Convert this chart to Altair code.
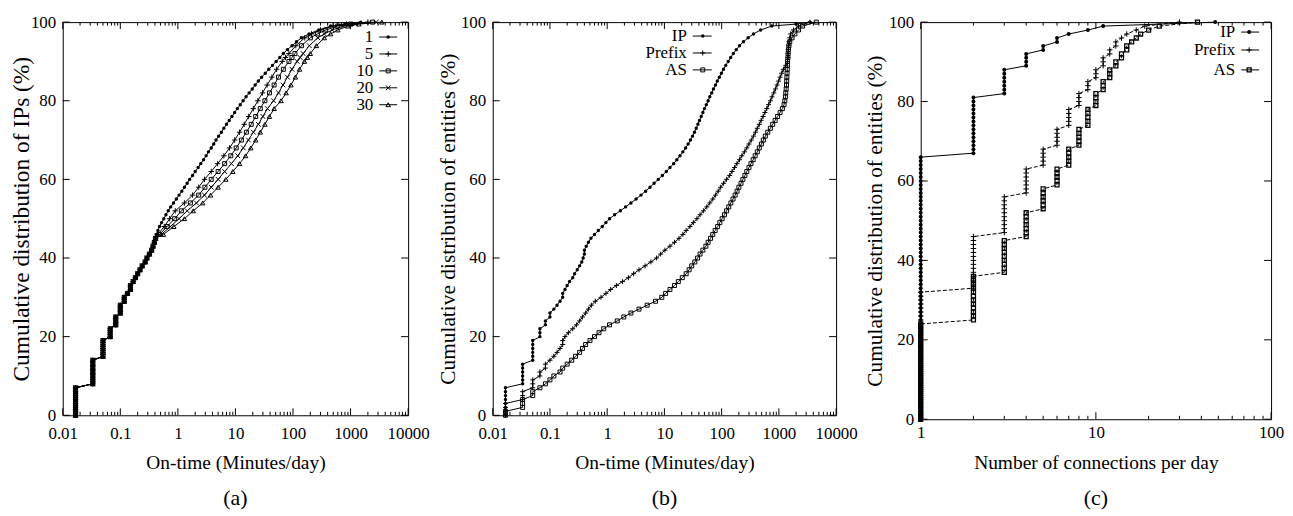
import altair as alt
import pandas as pd

FONT = "Liberation Serif, Times New Roman, Times, serif"
PLUS = "M-1,0L1,0M0,-1L0,1"
CROSS = "M-1,-1L1,1M-1,1L1,-1"

# ---------------- panel (a): on-time of IPs, [minutes/day, %] ----------------
a_low = [[0.0167,0],[0.0167,1],[0.0167,2],[0.0167,3],[0.0167,4],[0.0167,5],[0.0167,6],[0.0167,7],
         [0.0333,8],[0.0333,9],[0.0333,10],[0.0333,11],[0.0333,12],[0.0333,13],[0.0333,14],
         [0.05,15],[0.05,16],[0.05,17],[0.05,18],[0.05,19],
         [0.0667,20],[0.0667,21],[0.0667,22],[0.0833,23],[0.0833,24],[0.0833,25],
         [0.1,26],[0.1,27],[0.1,28],[0.117,29],[0.117,30],[0.133,31],[0.15,32],[0.15,33],[0.167,34],
         [0.183,35],[0.2,36],[0.22,37],[0.24,38],[0.27,39],[0.29,40],[0.32,41],[0.35,42],[0.37,43],[0.39,44]]
a_1 = [[0.4,45],[0.42,46],[0.45,47],[0.48,48],[0.52,49],[0.57,50],[0.62,51],[0.68,52],[0.75,53],[0.84,54],
       [0.94,55],[1.05,56],[1.17,57],[1.3,58],[1.45,59],[1.6,60],[1.8,61],[2.0,62],[2.25,63],[2.5,64],
       [2.8,65],[3.1,66],[3.4,67],[3.8,68],[4.2,69],[4.6,70],[5.1,71],[5.7,72],[6.3,73],[7.0,74],
       [7.8,75],[8.7,76],[9.7,77],[10.8,78],[12.1,79],[13.6,80],[15.3,81],[17.3,82],[19.6,83],[22,84],
       [25,85],[28.5,86],[33,87],[38,88],[44,89],[51,90],[59,91],[68,92],[80,93],[96,94],
       [115,95],[140,96],[190,97],[280,98],[450,99],[800,99.5],[1500,100]]
a_5 = [[0.41,45],[0.45,46],[0.58,48],[0.72,50],[0.9,52],[1.3,54],[1.8,56],[2.3,58],[2.9,60],[3.8,62],
       [4.9,64],[6.3,66],[7.9,68],[9.7,70],[11.8,72],[14.2,74],[17,76],[20.5,78],[24.5,80],[29.5,82],
       [35.5,84],[43,86],[52,88],[65,90],[74,91],[85,92],[112,94],[160,96],[210,97],[300,98],
       [500,99],[850,99.5],[2000,100]]
a_10 = [[0.41,45],[0.48,46],[0.65,48],[0.88,50],[1.15,52],[1.65,54],[2.3,56],[2.95,58],[3.8,60],[5.0,62],
        [6.5,64],[8.3,66],[10.3,68],[12.7,70],[15.5,72],[18.8,74],[22.5,76],[27,78],[32.5,80],[39,82],
        [47,84],[56,86],[68,88],[85,90],[96,91],[108,92],[140,94],[200,96],[265,97],[370,98],
        [600,99],[1000,99.5],[2400,100]]
a_20 = [[0.41,45],[0.52,46],[0.74,48],[1.05,50],[1.45,52],[2.1,54],[2.9,56],[3.8,58],[5.0,60],[6.5,62],
        [8.5,64],[11,66],[13.7,68],[16.8,70],[20.5,72],[25,74],[30,76],[36,78],[46,80],[56,82],
        [67,84],[80,86],[96,88],[118,90],[133,91],[150,92],[192,94],[270,96],[350,97],[480,98],
        [750,99],[1200,99.5],[2800,100]]
a_30 = [[0.41,45],[0.56,46],[0.85,48],[1.3,50],[1.85,52],[2.7,54],[3.7,56],[5.0,58],[6.8,60],[9.0,62],
        [11.8,64],[15,66],[18.5,68],[22.5,70],[27,72],[32.5,74],[39,76],[47,78],[62,80],[76,82],
        [92,84],[110,86],[130,88],[158,90],[178,91],[200,92],[255,94],[350,96],[450,97],[600,98],
        [900,99],[1400,99.5],[3500,100]]
a_names = ["1", "5", "10", "20", "30"]

# ---------------- panel (b): on-time of entities ----------------
b_ip = [[0.0167,0],[0.0167,1],[0.0167,2],[0.0167,3],[0.0167,4],[0.0167,5],[0.0167,6],[0.0167,7],
        [0.0333,8],[0.0333,9],[0.0333,10],[0.0333,11],[0.0333,12],[0.0333,13],
        [0.05,14],[0.05,15],[0.05,16],[0.05,17],[0.05,18],[0.05,19],
        [0.0667,20],[0.0667,21],[0.0667,22],[0.0833,23],[0.0833,24],
        [0.1,25],[0.1,26],[0.117,27],[0.133,28],[0.15,29],[0.167,30],[0.167,31],[0.183,32],[0.2,33],
        [0.22,34],[0.25,35],[0.27,36],[0.3,37],[0.33,38],[0.36,39],[0.38,40],[0.4,41],[0.4,42],
        [0.43,43],[0.47,44],[0.52,45],[0.6,46],[0.7,47],[0.82,48],[0.95,49],[1.1,50],[1.35,51],
        [1.7,52],[2.1,53],[2.6,54],[3.2,55],[3.9,56],[4.7,57],[5.6,58],[6.6,59],[7.8,60],[9.2,61],
        [10.8,62],[12.5,63],[14.5,64],[16.5,65],[18.7,66],[21,67],[23.5,68],[26,69],[28.5,70],
        [31,71],[33.5,72],[36,73],[38.5,74],[41,75],[44,76],[47,77],[50,78],[54,79],[58,80],
        [62,81],[67,82],[72,83],[78,84],[84,85],[91,86],[99,87],[108,88],[118,89],[130,90],
        [144,91],[160,92],[180,93],[205,94],[240,95],[290,96],[360,97],[480,98],[750,99],
        [2000,99.5],[3500,100]]
b_prefix = [[0.0167,0],[0.0167,1],[0.0167,2],[0.0167,3],[0.0333,4],[0.0333,5],[0.0333,6],
            [0.05,7],[0.05,8],[0.05,9],[0.0667,10],[0.0667,11],[0.0833,12],[0.0833,13],[0.1,14],
            [0.117,15],[0.133,16],[0.15,17],[0.167,18],[0.167,19],[0.183,20],[0.21,21],[0.25,22],
            [0.29,23],[0.33,24],[0.37,25],[0.42,26],[0.47,27],[0.53,28],[0.62,29],[0.78,30],
            [0.95,31],[1.15,32],[1.45,33],[1.85,34],[2.35,35],[2.9,36],[3.6,37],[4.6,38],[5.8,39],
            [7.3,40],[8.6,41],[10.2,42],[12.5,43],[15,44],[18,45],[21,46],[24,47],[28,48],[32,49],
            [37,50],[42,51],[48,52],[55,53],[62,54],[70,55],[78,56],[87,57],[96,58],[108,59],
            [122,60],[138,61],[152,62],[168,63],[185,64],[205,65],[225,66],[250,67],[275,68],
            [300,69],[330,70],[360,71],[390,72],[420,73],[455,74],[490,75],[530,76],[570,77],
            [615,78],[660,79],[710,80],[760,81],[815,82],[870,83],[930,84],[990,85],[1050,86],
            [1120,87],[1200,88],[1320,89],[1420,90],[1440,91],[1450,92],[1460,93],[1480,94],
            [1500,95],[1550,96],[1600,97],[1800,98],[2200,99],[3500,100]]
b_as = [[0.0167,0],[0.0167,1],[0.0333,2],[0.0333,3],[0.0333,4],[0.05,5],[0.05,6],[0.0667,7],
        [0.0833,8],[0.1,9],[0.117,10],[0.15,11],[0.167,12],[0.2,13],[0.24,14],[0.28,15],[0.33,16],
        [0.37,17],[0.42,18],[0.5,19],[0.6,20],[0.72,21],[0.87,22],[1.1,23],[1.5,24],[1.95,25],
        [2.6,26],[3.6,27],[5.0,28],[7.0,29],[9.0,30],[10.5,31],[12.5,32],[15,33],[17.5,34],
        [20.5,35],[24,36],[27,37],[30,38],[34,39],[38,40],[42,41],[47,42],[53,43],[58,44],
        [64,45],[70,46],[77,47],[85,48],[93,49],[102,50],[112,51],[122,52],[133,53],[145,54],
        [158,55],[172,56],[186,57],[200,58],[218,59],[235,60],[255,61],[275,62],[300,63],
        [325,64],[355,65],[385,66],[420,67],[455,68],[495,69],[535,70],[580,71],[640,72],
        [710,73],[780,74],[860,75],[950,76],[1050,77],[1150,78],[1230,79],[1270,80],[1300,81],
        [1320,82],[1340,83],[1360,84],[1370,85],[1380,86],[1390,87],[1400,88],[1410,89],
        [1420,90],[1440,91],[1450,92],[1470,93],[1500,94],[1550,95],[1700,96],[1900,97],
        [2200,98],[2600,99],[4500,100]]
b_names = ["IP", "Prefix", "AS"]

# ---------------- panel (c): connections per day, [count, [% values at that count]] ----------------
c_ip = [[1, [0,1,2,3,4,5,6,7,8,9,10,11,12,13,14,15,16,17,18,19,20,21,22,23,24,25,26,27,28,29,30,31,32,33,
             34,35,36,37,38,39,40,41,42,43,44,45,46,47,48,49,50,51,52,53,54,55,56,57,58,59,60,61,62,63,
             64,65,66]],
        [2, [67,68,69,70,71,72,73,74,75,76,77,78,79,80,81]],
        [3, [82,83,84,85,86,87,88]],
        [4, [89,90,91,92]],
        [5, [93,94]], [6, [95,96]], [7, [97]], [9, [98]], [11, [99]], [48, [100]]]
c_prefix = [[1, [0,1,2,3,4,5,6,7,8,9,10,11,12,13,14,15,16,17,18,19,20,21,22,23,24,25,26,27,28,29,30,31,32]],
            [2, [33,34,35,36,37,38,39,40,41,42,43,44,45,46]],
            [3, [47,48,49,50,51,52,53,54,55,56]],
            [4, [57,58,59,60,61,62,63]],
            [5, [64,65,66,67,68]],
            [6, [69,70,71,72,73]],
            [7, [74,75,76,77,78]],
            [8, [79,80,81,82]],
            [9, [83,84,85]],
            [10, [86,87,88]],
            [11, [89,90,91]],
            [12, [92,93]], [13, [94,95]], [14, [96]], [15, [97]], [17, [98]], [19, [99]], [30, [100]]]
c_as = [[1, [0,1,2,3,4,5,6,7,8,9,10,11,12,13,14,15,16,17,18,19,20,21,22,23,24]],
        [2, [25,26,27,28,29,30,31,32,33,34,35,36]],
        [3, [37,38,39,40,41,42,43,44,45]],
        [4, [46,47,48,49,50,51,52]],
        [5, [53,54,55,56,57,58]],
        [6, [59,60,61,62,63]],
        [7, [64,65,66,67,68]],
        [8, [69,70,71,72,73]],
        [9, [74,75,76,77,78]],
        [10, [79,80,81,82]],
        [11, [83,84,85]],
        [12, [86,87,88]],
        [13, [89,90]], [14, [91,92]], [15, [93,94]], [16, [95]], [17, [96]], [18, [97]],
        [20, [98]], [23, [99]], [38, [100]]]
c_names = ["IP", "Prefix", "AS"]

Y_TICKS = [0, 20, 40, 60, 80, 100]
X_TICKS_AB = [0.01, 0.1, 1, 10, 100, 1000, 10000]
X_TICKS_C = [1, 10, 100]


def stacks_to_pairs(stacks):
    return [[x, y] for x, ys in stacks for y in ys]


def minor_ticks(majors):
    return [m * k for m in majors[:-1] for k in range(2, 10)]


def panel(series, majors, xtitle, ytitle, ytitle_fs, W, H, ytitle_x, lab_pad, xtitle_y, leg, caption, cap_y):
    xs = alt.Scale(type="log", domain=[majors[0], majors[-1]], nice=False)
    ys = alt.Scale(type="linear", domain=[0, 100], nice=False, zero=False)
    xaxis = alt.Axis(values=majors, format="~g", ticks=False, tickSize=0, domain=False, grid=False,
                     labelFlush=False, labelOverlap=False, labelFont=FONT, labelFontSize=17,
                     labelColor="black", labelPadding=lab_pad, labelBaseline="middle",
                     title=xtitle, titleFont=FONT, titleFontSize=19.5, titleFontWeight="normal",
                     titleColor="black", titleY=xtitle_y, titleBaseline="middle")
    yaxis = alt.Axis(values=Y_TICKS, ticks=False, tickSize=0, domain=False, grid=False,
                     labelFont=FONT, labelFontSize=17, labelColor="black", labelPadding=7,
                     title=ytitle, titleFont=FONT, titleFontSize=ytitle_fs, titleFontWeight="normal",
                     titleColor="black", titleX=-ytitle_x, titleBaseline="middle")

    def X(f):
        return alt.X(f"{f}:Q", scale=xs, axis=xaxis)

    def Y(f):
        return alt.Y(f"{f}:Q", scale=ys, axis=yaxis)

    layers = []
    maj = pd.DataFrame({"v": majors})
    mnr = pd.DataFrame({"v": minor_ticks(majors)})
    yt = pd.DataFrame({"v": Y_TICKS})
    for df, L in ((maj, 7), (mnr, 3.5)):
        layers.append(alt.Chart(df).mark_rule(color="black", strokeWidth=1).encode(
            x=X("v"), y=alt.value(H), y2=alt.value(H - L)))
        layers.append(alt.Chart(df).mark_rule(color="black", strokeWidth=1).encode(
            x=X("v"), y=alt.value(0), y2=alt.value(L)))
    layers.append(alt.Chart(yt).mark_rule(color="black", strokeWidth=1).encode(
        y=Y("v"), x=alt.value(0), x2=alt.value(7)))
    layers.append(alt.Chart(yt).mark_rule(color="black", strokeWidth=1).encode(
        y=Y("v"), x=alt.value(W), x2=alt.value(W - 7)))

    for i, s in enumerate(series):
        df = pd.DataFrame({"x": [p[0] for p in s["pairs"]], "y": [p[1] for p in s["pairs"]],
                           "i": list(range(len(s["pairs"])))})
        lk = dict(color="black", strokeWidth=1)
        if s.get("dash"):
            lk["strokeDash"] = s["dash"]
        layers.append(alt.Chart(df).mark_line(**lk).encode(x=X("x"), y=Y("y"), order="i:Q"))
        pk = dict(shape=s["shape"], filled=s["filled"], size=s["size"], color="black",
                  strokeWidth=s.get("sw", 1), opacity=1)
        layers.append(alt.Chart(df).mark_point(**pk).encode(x=X("x"), y=Y("y")))
        # key entry: label, sample line, marker
        yy = leg["rows"][i]
        one = pd.DataFrame({"label": [s["name"]]})
        layers.append(alt.Chart(one).mark_text(align="right", baseline="middle", font=FONT,
                                               fontSize=17, color="black").encode(
            x=alt.value(leg["tx"]), y=alt.value(yy), text="label:N"))
        layers.append(alt.Chart(one).mark_rule(color="black", strokeWidth=1).encode(
            x=alt.value(leg["x1"]), x2=alt.value(leg["x2"]), y=alt.value(yy)))
        layers.append(alt.Chart(one).mark_point(**pk).encode(x=alt.value(leg["mx"]), y=alt.value(yy)))

    cap = pd.DataFrame({"label": [caption]})
    layers.append(alt.Chart(cap).mark_text(align="center", baseline="middle", font=FONT,
                                           fontSize=22, color="black").encode(
        x=alt.value(W / 2), y=alt.value(cap_y), text="label:N"))
    return alt.layer(*layers).properties(width=W, height=H)


sa = [
    dict(name=a_names[0], pairs=a_low + a_1, shape="circle", filled=True, size=12),
    dict(name=a_names[1], pairs=a_low + a_5, shape=PLUS, filled=False, size=30),
    dict(name=a_names[2], pairs=a_low + a_10, shape="square", filled=False, size=16),
    dict(name=a_names[3], pairs=a_low + a_20, shape=CROSS, filled=False, size=22),
    dict(name=a_names[4], pairs=a_low + a_30, shape="triangle-up", filled=False, size=20),
]
sb = [
    dict(name=b_names[0], pairs=b_ip, shape="circle", filled=True, size=12),
    dict(name=b_names[1], pairs=b_prefix, shape=PLUS, filled=False, size=25),
    dict(name=b_names[2], pairs=b_as, shape="square", filled=False, size=16),
]
sc = [
    dict(name=c_names[0], pairs=stacks_to_pairs(c_ip), shape="circle", filled=True, size=16),
    dict(name=c_names[1], pairs=stacks_to_pairs(c_prefix), shape=PLUS, filled=False, size=30, dash=[4, 2]),
    dict(name=c_names[2], pairs=stacks_to_pairs(c_as), shape="square", filled=False, size=16, sw=1.3, dash=[4, 2]),
]

pa = panel(sa, X_TICKS_AB, "On-time (Minutes/day)", "Cumulative distribution of IPs (%)", 23.5,
           347, 395, 41, 18, 47, dict(tx=312, x1=318, x2=336, mx=327, rows=[15, 32, 49, 66, 83]), "(a)", 478)
pb = panel(sb, X_TICKS_AB, "On-time (Minutes/day)", "Cumulative distribution of entities (%)", 21.5,
           345, 395, 44, 18, 47, dict(tx=195, x1=201, x2=220, mx=211, rows=[14, 31, 48]), "(b)", 478)
pc = panel(sc, X_TICKS_C, "Number of connections per day", "Cumulative distribution of entities (%)", 21.5,
           352, 399, 45, 13, 43, dict(tx=316, x1=322, x2=340, mx=330, rows=[10, 28, 48]), "(c)", 478)

chart = alt.hconcat(pa, pb, pc, spacing=85, bounds="flush").properties(
    padding={"left": 1, "top": 3, "right": 0, "bottom": 0}, background="white"
).configure_view(stroke="black", strokeWidth=1)

chart.save("out.html", embed_options={"renderer": "svg", "actions": False})
